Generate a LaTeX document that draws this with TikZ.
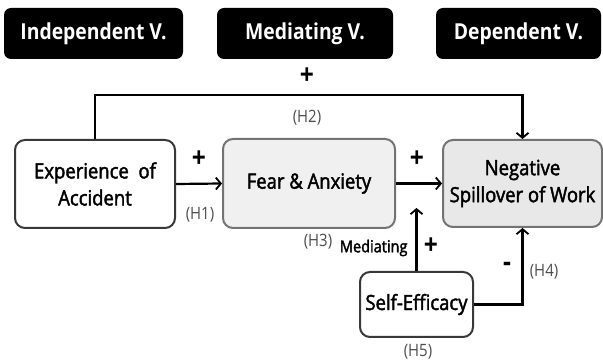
\documentclass[tikz,border=0pt]{standalone}
\usepackage{fontspec}
\setmainfont{Open Sans}[FakeStretch=0.88]
\newfontfamily\boxfont{Open Sans}[FakeStretch=0.88, FakeBold=2]
\usetikzlibrary{arrows.meta,calc}

\begin{document}
\begin{tikzpicture}[
        %We set the units (1pt = 1px, y downwards) and define some styles
        x=1pt, y=-1pt,
        conn/.style={line width=2.2pt, -{Straight Barb[length=5pt,width=12pt,line width=1.8pt]}},
        head/.style={fill=black, rounded corners=7pt, text=white, inner sep=0pt,
            minimum height=51pt, font=\fontsize{22}{25}\selectfont\bfseries},
        var box/.style={draw=black!78, line width=2pt, rounded corners=10pt, fill=white,
            align=center, inner sep=0pt, font=\boxfont\fontsize{21}{27}\selectfont},
        shaded box/.style={var box, draw=black!55, fill=black!6},
        sign/.style={font=\fontsize{28}{28}\selectfont\bfseries},
        hyp/.style={text=black!70, font=\fontsize{17}{19}\selectfont},
        every node/.style={color=black,}
     ]
    \useasboundingbox (0,0) rectangle (603,363);

    % Headings
    \node[head, minimum width=179pt] (indep) at (93.5,33.5) {Independent V.};
    \node[head, minimum width=176pt] (medi) at (305,33.5) {Mediating V.};
    \node[head, minimum width=165pt] (dep) at (518.5,33.5) {Dependent V.};

    % Variables
    \node[var box, minimum width=160pt, minimum height=88pt] (exp) at (95,184)
        {Experience\ \ of\\Accident};
    \node[shaded box, minimum width=172pt, minimum height=89pt] (fear) at (309,183.5)
        {Fear \& Anxiety};
    \node[shaded box, fill=black!9, minimum width=159pt, minimum height=87pt] (neg) at (522.5,183.5)
        {Negative\\Spillover of Work};
    \node[var box, minimum width=113pt, minimum height=65pt] (self) at (416.5,304.5)
        {Self-Efficacy};

    % Important coordinates are defined
    \coordinate (h2) at (309,95);
    \coordinate (med) at (416.5,208);

    % Paths
    \draw[conn] (exp.north) |- (h2) -| (neg.north);
    \draw[conn] (exp.east) -- (fear.west);
    \draw[conn] (fear.east) -- (neg.west);
    \draw[conn] (self.north) -- (med);
    \draw[conn] (self.east) -| (neg.south);

    % Signs and hypotheses
    \node[sign] (s2) at (307,76) {+};
    \node[hyp] (t2) at (307,118) {(H2)};
    \node[sign] (s1) at (199,159) {+};
    \node[hyp] (t1) at (200,215) {(H1)};
    \node[sign] (s3) at (417,159) {+};
    \node[hyp] (t3) at (318,242) {(H3)};
    \node[font=\boxfont\fontsize{16.5}{18}\selectfont, anchor=east] (mtext) at (411,248) {Mediating};
    \node[sign] (s5) at (431,246) {+};
    \node[sign] (s4) at (507,267) {-};
    \node[hyp] (t4) at (544,272) {(H4)};
    \node[hyp] (t5) at (418,352) {(H5)};
\end{tikzpicture}
\end{document}
